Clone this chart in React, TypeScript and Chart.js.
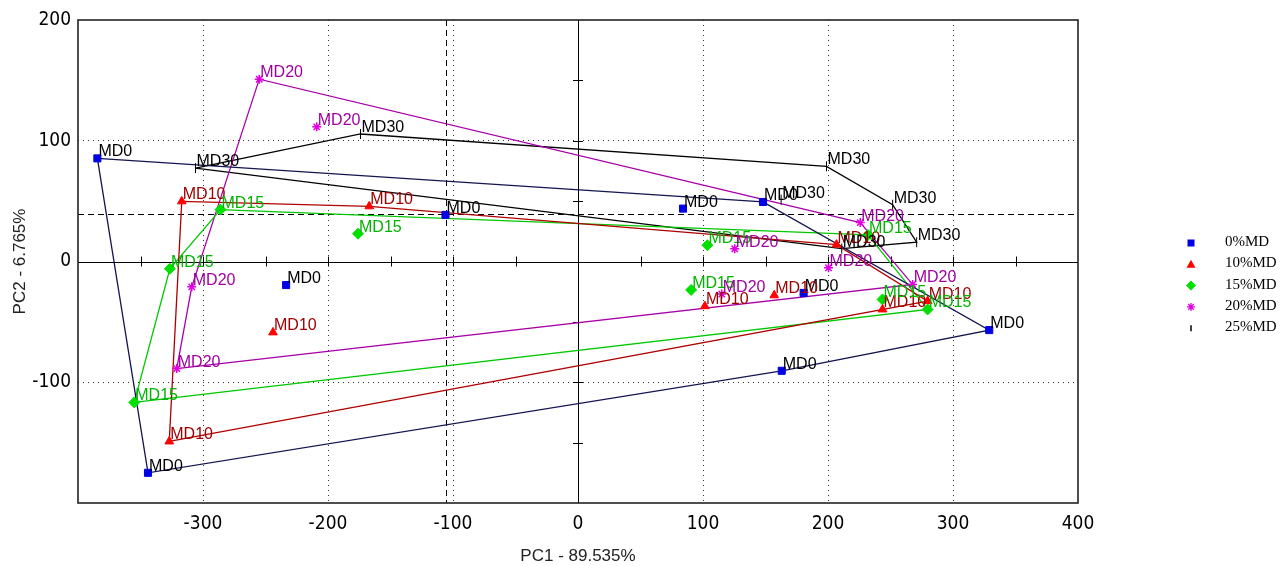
import { useEffect, useRef } from 'react';
import { Chart, registerables } from 'chart.js';

Chart.register(...registerables);

// ---- data (PCA scores) ----
const GROUPS = ['MD0', 'MD10', 'MD15', 'MD20', 'MD30'];
const LEGEND_LABELS = ['0%MD', '10%MD', '15%MD', '20%MD', '25%MD'];

const md0X = [-384.5, -344, -233.5, -106, 84, 148, 180.5, 163, 329];
const md0Y = [85.4, -175, -19.5, 38.6, 43.8, 49.3, -26, -90.5, -56.8];

const md10X = [-317, -167, -244, -327, 206.8, 101.5, 157, 243.6, 279.7];
const md10Y = [49.8, 45.7, -58.7, -149, 14, -37, -28, -39.7, -32.8];

const md15X = [-286, -176, -326.5, -355, 103.5, 90.5, 232, 243.6, 279.7];
const md15Y = [43, 23, -6, -116.7, 13.5, -23.5, 22, -31.4, -39.7];

const md20X = [-255, -209, -309, -321, 225.8, 125.4, 200.4, 267.7, 115];
const md20Y = [151, 111.5, -21, -88.7, 32.2, 10.5, -5.2, -19, -27];

const md30X = [-306, -174, 198.8, 251.7, 270.9, 211, 162.5];
const md30Y = [77.4, 105.6, 78.8, 47, 16, 10.7, 51.2];

// reference (dashed) lines
const REF_X = -106;
const REF_Y = 39;

const X_TICKS_HIDDEN = [-400];
const Y_TICKS_HIDDEN = [-200];

const SERIES_X = [md0X, md10X, md15X, md20X, md30X];
const SERIES_Y = [md0Y, md10Y, md15Y, md20Y, md30Y];

// ---- styles ----
const MARKER_COLORS = ['#0000e6', '#ff0000', '#00e000', '#e000e0', '#000000'];
const HULL_COLORS = ['#141450', '#b00000', '#00c800', '#a800a8', '#000000'];
const LABEL_COLORS = ['#000000', '#a00000', '#00b400', '#a000a0', '#000000'];
const POINT_STYLES = ['rect', 'triangle', 'rectRot', 'star', 'line'];
const POINT_RADII = [5, 5, 5.5, 4.5, 5];
const POINT_ROT = [0, 0, 0, 0, 90];

type P = { x: number; y: number };

function convexHull(pts: P[]): P[] {
  const p = [...pts].sort((a, b) => a.x - b.x || a.y - b.y);
  const cross = (o: P, a: P, b: P) => (a.x - o.x) * (b.y - o.y) - (a.y - o.y) * (b.x - o.x);
  const lower: P[] = [];
  for (const q of p) {
    while (lower.length >= 2 && cross(lower[lower.length - 2], lower[lower.length - 1], q) <= 0) lower.pop();
    lower.push(q);
  }
  const upper: P[] = [];
  for (let i = p.length - 1; i >= 0; i--) {
    const q = p[i];
    while (upper.length >= 2 && cross(upper[upper.length - 2], upper[upper.length - 1], q) <= 0) upper.pop();
    upper.push(q);
  }
  upper.pop();
  lower.pop();
  const h = lower.concat(upper);
  h.push(h[0]);
  return h;
}

const TICK_FONT = "'Liberation Sans Narrow', 'DejaVu Sans Condensed', 'Liberation Sans', sans-serif";
const LABEL_FONT = "'Liberation Sans', Arial, sans-serif";

const decorPlugin = {
  id: 'decor',
  beforeDatasetsDraw(chart: any) {
    const { ctx, chartArea: a, scales } = chart;
    const xs = scales.x, ys = scales.y;
    const x0 = xs.getPixelForValue(0);
    const y0 = ys.getPixelForValue(0);
    ctx.save();
    ctx.strokeStyle = '#000';
    ctx.lineWidth = 1;
    // centre axes
    ctx.beginPath();
    ctx.moveTo(a.left, Math.round(y0) + 0.5);
    ctx.lineTo(a.right, Math.round(y0) + 0.5);
    ctx.moveTo(Math.round(x0) + 0.5, a.top);
    ctx.lineTo(Math.round(x0) + 0.5, a.bottom);
    // small ticks every 50
    for (let v = -350; v <= 350; v += 50) {
      if (v === 0) continue;
      const px = Math.round(xs.getPixelForValue(v)) + 0.5;
      ctx.moveTo(px, y0 - 5);
      ctx.lineTo(px, y0 + 5);
    }
    for (let v = -150; v <= 150; v += 50) {
      if (v === 0) continue;
      const py = Math.round(ys.getPixelForValue(v)) + 0.5;
      ctx.moveTo(x0 - 5, py);
      ctx.lineTo(x0 + 5, py);
    }
    ctx.stroke();
    // dashed reference lines
    ctx.setLineDash([6, 4]);
    ctx.beginPath();
    const rx = Math.round(xs.getPixelForValue(REF_X)) + 0.5;
    const ry = Math.round(ys.getPixelForValue(REF_Y)) + 0.5;
    ctx.moveTo(rx, a.top);
    ctx.lineTo(rx, a.bottom);
    ctx.moveTo(a.left, ry);
    ctx.lineTo(a.right, ry);
    ctx.stroke();
    ctx.setLineDash([]);
    // frame
    ctx.strokeStyle = '#222';
    ctx.lineWidth = 1.6;
    ctx.strokeRect(a.left, a.top, a.right - a.left, a.bottom - a.top);
    ctx.restore();
  },
};

const labelPlugin = {
  id: 'pointLabels',
  afterDatasetsDraw(chart: any) {
    const { ctx } = chart;
    ctx.save();
    ctx.font = `16px ${LABEL_FONT}`;
    ctx.textAlign = 'left';
    ctx.textBaseline = 'alphabetic';
    chart.data.datasets.forEach((ds: any, i: number) => {
      if (ds.groupIndex === undefined || ds.isHull) return;
      const meta = chart.getDatasetMeta(i);
      ctx.fillStyle = LABEL_COLORS[ds.groupIndex];
      meta.data.forEach((el: any) => {
        ctx.fillText(GROUPS[ds.groupIndex], el.x + 1, el.y - 2);
      });
    });
    ctx.restore();
  },
};

const legendPlugin = {
  id: 'sideLegend',
  afterDraw(chart: any) {
    const { ctx } = chart;
    ctx.save();
    const mx = 1191;
    const tx = 1225;
    LEGEND_LABELS.forEach((lab, i) => {
      const y = 243 + i * 21.3;
      ctx.fillStyle = MARKER_COLORS[i];
      ctx.strokeStyle = MARKER_COLORS[i];
      ctx.lineWidth = 1.3;
      if (i === 0) {
        ctx.fillRect(mx - 3.5, y - 3.5, 7, 7);
      } else if (i === 1) {
        ctx.beginPath();
        ctx.moveTo(mx, y - 4.5);
        ctx.lineTo(mx + 4.5, y + 3.5);
        ctx.lineTo(mx - 4.5, y + 3.5);
        ctx.closePath();
        ctx.fill();
      } else if (i === 2) {
        ctx.beginPath();
        ctx.moveTo(mx, y - 5);
        ctx.lineTo(mx + 5, y);
        ctx.lineTo(mx, y + 5);
        ctx.lineTo(mx - 5, y);
        ctx.closePath();
        ctx.fill();
      } else if (i === 3) {
        ctx.beginPath();
        const r = 4;
        for (let k = 0; k < 4; k++) {
          const ang = (k * Math.PI) / 4;
          ctx.moveTo(mx - r * Math.cos(ang), y - r * Math.sin(ang));
          ctx.lineTo(mx + r * Math.cos(ang), y + r * Math.sin(ang));
        }
        ctx.stroke();
      } else {
        ctx.beginPath();
        ctx.lineWidth = 1.5;
        ctx.moveTo(mx, y - 3);
        ctx.lineTo(mx, y + 3);
        ctx.stroke();
      }
      ctx.fillStyle = '#000';
      ctx.font = "15px 'Liberation Serif', 'Times New Roman', serif";
      ctx.textAlign = 'left';
      ctx.textBaseline = 'middle';
      ctx.fillText(lab, tx, y - 1);
    });
    ctx.restore();
  },
};

export default function App() {
  const ref = useRef<HTMLCanvasElement | null>(null);

  useEffect(() => {
    if (!ref.current) return;

    const pointSets = GROUPS.map((g, i) => ({
      label: g,
      groupIndex: i,
      isHull: false,
      data: SERIES_X[i].map((x, k) => ({ x, y: SERIES_Y[i][k] })),
      pointStyle: POINT_STYLES[i],
      pointRadius: POINT_RADII[i],
      pointRotation: POINT_ROT[i],
      backgroundColor: MARKER_COLORS[i],
      borderColor: MARKER_COLORS[i],
      pointBorderWidth: i === 3 ? 1.5 : 1,
      showLine: false,
      order: 1,
    }));

    const hullSets = GROUPS.map((g, i) => ({
      label: g + ' hull',
      groupIndex: i,
      isHull: true,
      data: convexHull(SERIES_X[i].map((x, k) => ({ x, y: SERIES_Y[i][k] }))),
      showLine: true,
      borderColor: HULL_COLORS[i],
      backgroundColor: HULL_COLORS[i],
      borderWidth: 1.3,
      pointRadius: 0,
      fill: false,
      tension: 0,
      order: 2,
    }));

    const chart = new Chart(ref.current, {
      type: 'scatter',
      data: { datasets: [...pointSets, ...hullSets] as any },
      options: {
        animation: false,
        responsive: false,
        devicePixelRatio: 1,
        layout: { padding: { top: 20, right: 202, left: 0, bottom: 0 } },
        plugins: {
          legend: { display: false },
          tooltip: { enabled: false },
        },
        scales: {
          x: {
            type: 'linear',
            min: -400,
            max: 400,
            afterFit: (s: any) => {
              s.height = 63;
            },
            ticks: {
              stepSize: 100,
              color: '#000',
              padding: 10,
              font: { family: TICK_FONT, size: 19 },
              callback: (v: any) => (X_TICKS_HIDDEN.includes(Number(v)) ? '' : String(v)),
            },
            grid: {
              drawTicks: false,
              lineWidth: 1,
              color: (c: any) => {
                const v = c.tick ? c.tick.value : 0;
                return v === 0 || Math.abs(v) === 400 ? 'rgba(0,0,0,0)' : '#333';
              },
            },
            border: { display: false, dash: [1, 4] },
            title: {
              display: true,
              text: 'PC1 - 89.535%',
              color: '#222',
              font: { family: LABEL_FONT, size: 17, lineHeight: 1 },
              padding: { top: 0, bottom: 1 },
            },
          },
          y: {
            type: 'linear',
            min: -200,
            max: 200,
            afterFit: (s: any) => {
              s.width = 78;
            },
            ticks: {
              stepSize: 100,
              color: '#000',
              padding: 7,
              font: { family: TICK_FONT, size: 19 },
              callback: (v: any) => (Y_TICKS_HIDDEN.includes(Number(v)) ? '' : String(v)),
            },
            grid: {
              drawTicks: false,
              lineWidth: 1,
              color: (c: any) => {
                const v = c.tick ? c.tick.value : 0;
                return v === 0 || Math.abs(v) === 200 ? 'rgba(0,0,0,0)' : '#333';
              },
            },
            border: { display: false, dash: [1, 4] },
            title: {
              display: true,
              text: 'PC2 - 6.765%',
              color: '#222',
              font: { family: LABEL_FONT, size: 17, lineHeight: 1 },
              padding: { top: 12, bottom: 0 },
            },
          },
        },
      },
      plugins: [decorPlugin, labelPlugin, legendPlugin],
    } as any);

    return () => chart.destroy();
  }, []);

  return (
    <div style={{ position: 'fixed', left: 0, top: 0, width: 1280, height: 566, background: '#fff' }}>
      <canvas ref={ref} width={1280} height={566} style={{ width: 1280, height: 566, display: 'block' }} />
    </div>
  );
}
